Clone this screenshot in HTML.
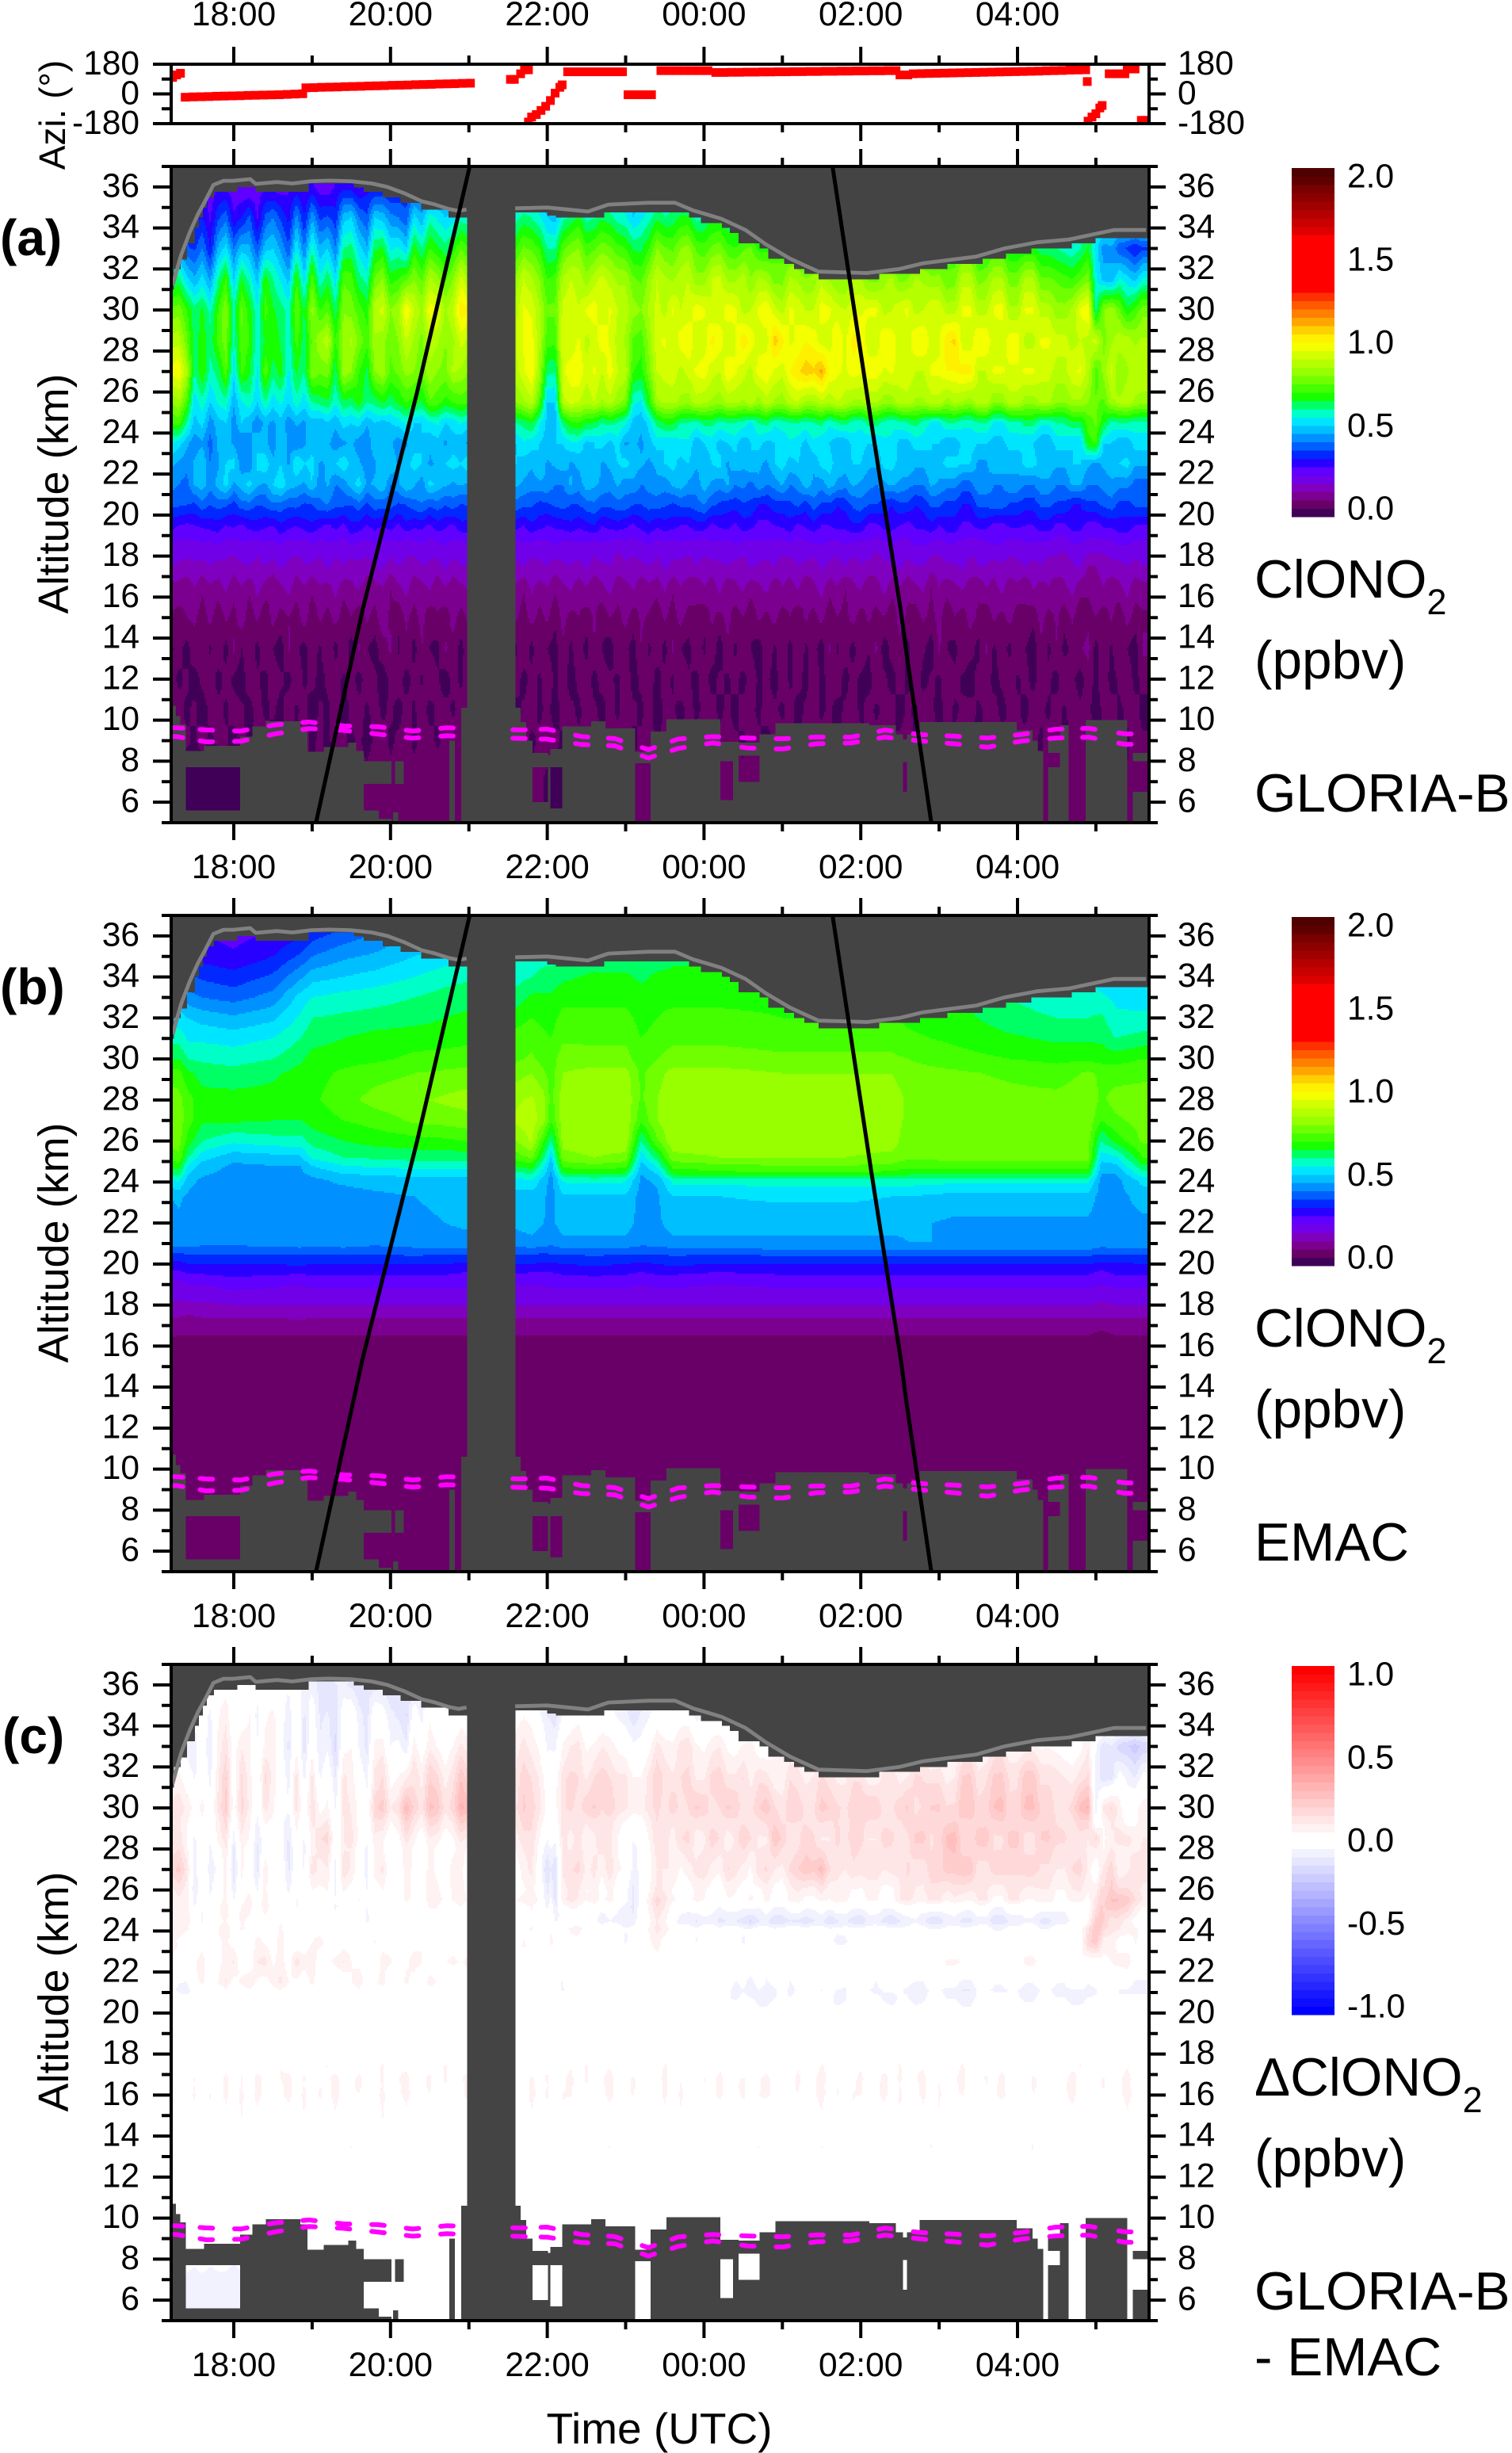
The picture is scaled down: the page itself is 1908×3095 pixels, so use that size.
<!DOCTYPE html>
<html lang="en">
<head>
<meta charset="utf-8">
<title>ClONO2 GLORIA-B and EMAC curtains</title>
<style>
html,body{margin:0;padding:0;background:#fff;width:1908px;height:3095px;overflow:hidden}
svg{display:block;font-family:"Liberation Sans",sans-serif;fill:#000}
</style>
</head>
<body>
<svg id="figure" xmlns="http://www.w3.org/2000/svg" width="1908" height="3095" viewBox="0 0 1908 3095">
<defs id="clips"></defs>
<rect x="0" y="0" width="1908" height="3095" fill="#fff"/>
<g id="marks"></g>
<g id="axes"></g>

<text font-size="46" text-anchor="middle" transform="translate(82 145) rotate(-90)">Azi. (°)</text>
<text font-size="54" text-anchor="middle" transform="translate(86 623) rotate(-90)">Altitude (km)</text>
<text font-size="54" text-anchor="middle" transform="translate(86 1568) rotate(-90)">Altitude (km)</text>
<text font-size="54" text-anchor="middle" transform="translate(86 2513) rotate(-90)">Altitude (km)</text>
<text font-size="55" text-anchor="middle" x="832" y="3083">Time (UTC)</text>

<text font-size="64" font-weight="bold" x="0" y="322">(a)</text>
<text font-size="64" font-weight="bold" x="0" y="1267">(b)</text>
<text font-size="64" font-weight="bold" x="3" y="2212">(c)</text>

<text font-size="67.5" x="1583" y="754">ClONO<tspan font-size="45" dy="21">2</tspan></text>
<text font-size="67.5" x="1583" y="856">(ppbv)</text>
<text font-size="67.5" x="1583" y="1024">GLORIA-B</text>

<text font-size="67.5" x="1583" y="1699">ClONO<tspan font-size="45" dy="21">2</tspan></text>
<text font-size="67.5" x="1583" y="1801">(ppbv)</text>
<text font-size="67.5" x="1583" y="1969">EMAC</text>

<text font-size="67.5" x="1583" y="2644">ΔClONO<tspan font-size="45" dy="21">2</tspan></text>
<text font-size="67.5" x="1583" y="2746">(ppbv)</text>
<text font-size="67.5" x="1583" y="2914">GLORIA-B</text>
<text font-size="67.5" x="1583" y="2997">- EMAC</text>
</svg>

<script>
// ---- axis data ----
const majorHours = [18, 20, 22, 24, 26, 28];
const minorHours = [19, 21, 23, 25, 27, 29];
const hourLabels = ["18:00", "20:00", "22:00", "00:00", "02:00", "04:00"];
const majorAltitudes = [36, 34, 32, 30, 28, 26, 24, 22, 20, 18, 16, 14, 12, 10, 8, 6];
const minorAltitudes = [37, 35, 33, 31, 29, 27, 25, 23, 21, 19, 17, 15, 13, 11, 9, 7, 5];
const azimuthMajorTicks = [180, 0, -180];
const azimuthMinorTicks = [90, -90];
const ppbvBarLabels = ["2.0", "1.5", "1.0", "0.5", "0.0"];
const ppbvBarValues = [2, 1.5, 1, 0.5, 0];
const deltaBarLabels = ["1.0", "0.5", "0.0", "-0.5", "-1.0"];
const deltaBarValues = [1, 0.5, 0, -0.5, -1];

// ---- azimuth series (hours after 00 UTC of first day, degrees) ----
const azimuthTimes = [17.22,17.27,17.32,
17.38,17.48,17.58,17.68,17.78,17.88,17.98,18.08,18.18,18.28,18.38,18.48,18.58,18.68,18.78,18.88,
18.92,19.02,19.12,19.22,19.32,19.42,19.52,19.62,19.72,19.82,19.92,20.02,20.12,20.22,20.32,20.42,20.52,20.62,20.72,20.82,20.92,21.02,
21.53,21.58,21.66,21.71,21.76,
21.76,21.8,21.86,21.92,21.98,22.04,22.1,22.16,22.19,
22.26,22.36,22.46,22.56,22.66,22.76,22.86,22.96,
23.03,23.13,23.23,23.33,
23.45,23.55,23.65,23.75,23.85,23.95,24.05,
24.15,24.25,24.35,24.45,24.55,24.65,24.75,24.85,24.95,25.05,25.15,25.25,25.35,25.45,25.55,25.65,25.75,25.85,25.95,26.05,26.15,26.25,26.35,26.45,
26.5,26.6,
26.67,26.77,26.87,26.97,27.07,27.17,27.27,27.37,27.47,27.57,27.67,27.77,27.87,27.97,28.07,28.17,28.27,28.37,28.47,28.57,28.67,28.77,28.87,
28.89,
28.9,28.95,29,29.05,29.08,
29.17,29.27,29.37,29.4,29.5,29.58,29.64];
const azimuthValues = [100,115,125,
-20,-18,-17,-16,-14,-13,-12,-11,-9,-8,-7,-6,-5,-3,-1,1,
37,38,40,41,42,44,45,46,48,49,50,52,53,54,56,57,58,60,61,62,64,65,
88,88,122,146,146,
-170,-140,-125,-100,-75,-40,5,40,55,
134,134,134,134,134,134,134,134,
-5,-5,-5,-5,
141,141,141,141,141,141,141,
130,130,131,131,132,132,133,133,134,134,135,135,136,136,137,137,138,138,139,139,140,140,141,141,
115,115,
122,123,124,125,126,127,128,129,130,131,132,133,134,135,136,137,138,140,141,142,144,145,146,
75,
-165,-140,-120,-85,-70,
122,122,122,151,151,-160,-160];

// ---- GLORIA-B ClONO2 curtain, 0.01 ppbv; one row per time column, altitudes as listed ----
const gloriaAltitudes = [36,34.5,33,31.5,30,28.5,27,25.5,24.5,23.5,22.5,21.5,20.5,19.5,18.5,17.5,16.5,15,13.5,12,10.5,9,7];
const gloriaTimes = [17.2,17.3,17.4,17.5,17.6,17.7,17.8,17.9,18,18.1,18.2,18.3,18.4,18.5,18.6,18.7,18.8,18.9,19,19.1,19.2,19.3,19.4,19.5,19.6,19.7,19.8,19.9,20,20.1,20.2,20.3,20.4,20.5,20.6,20.7,20.8,20.9,21,21.6,21.7,21.8,21.9,22,22.1,22.2,22.3,22.4,22.5,22.6,22.7,22.8,22.9,23,23.1,23.2,23.3,23.4,23.5,23.6,23.7,23.8,23.9,24,24.1,24.2,24.3,24.4,24.5,24.6,24.7,24.8,24.9,25,25.1,25.2,25.3,25.4,25.5,25.6,25.7,25.8,25.9,26,26.1,26.2,26.3,26.4,26.5,26.6,26.7,26.8,26.9,27,27.1,27.2,27.3,27.4,27.5,27.6,27.7,27.8,27.9,28,28.1,28.2,28.3,28.4,28.5,28.6,28.7,28.8,28.9,29,29.1,29.2,29.3,29.4,29.5,29.6];
const gloriaValues = [
[30,30,40,60,76,88,96,80,70,56,46,42,36,27,19,15,9,4,-1,2,1,1,-1],
[30,30,42,62,78,88,100,84,72,52,44,40,36,25,18,14,8,3,2,-1,2,-1,-1],
[28,30,36,52,70,76,86,72,60,46,42,38,35,24,18,13,7,5,-2,1,-1,1,-4],
[26,28,34,46,62,62,60,52,48,42,46,46,34,25,18,14,10,6,3,-2,1,-1,-4],
[26,30,40,52,66,68,70,58,52,44,50,48,38,26,19,13,6,2,5,1,-2,2,-4],
[22,24,30,44,58,62,58,50,42,38,40,42,35,27,18,15,9,7,-1,3,1,-1,-4],
[24,34,46,60,70,72,62,56,48,46,44,47,37,28,20,13,8,1,4,-2,2,1,-4],
[24,38,52,70,80,78,74,58,50,48,50,52,36,25,17,14,11,6,-2,2,-1,1,-4],
[21,26,40,50,60,58,52,46,42,44,52,44,33,26,17,12,7,3,6,-1,2,-2,-4],
[20,30,48,66,76,74,72,54,50,40,42,48,38,24,19,14,10,8,0,-3,1,1,-4],
[19,36,46,58,68,70,66,58,46,44,40,52,38,27,18,15,6,2,4,3,-2,-1,-1],
[22,24,36,48,56,56,54,50,42,48,52,46,35,28,17,13,12,6,-2,1,2,1,-1],
[24,36,48,68,72,66,74,60,46,46,54,44,36,26,19,15,8,1,5,-2,-1,2,-1],
[22,40,50,60,66,70,62,52,44,42,46,50,39,25,18,13,5,7,0,3,1,-2,-1],
[22,34,44,54,62,64,68,56,48,50,50,54,38,29,20,16,9,3,-3,1,-2,1,-1],
[24,28,36,48,58,56,54,50,42,44,44,48,36,27,17,14,12,5,6,-2,3,-1,-1],
[26,42,54,70,76,72,66,58,46,40,56,46,37,25,18,12,7,2,1,4,-1,1,-1],
[24,30,40,52,64,62,60,52,44,44,50,44,34,28,16,15,10,8,-2,-1,2,2,-1],
[26,44,58,74,82,76,80,60,48,48,52,50,35,29,19,14,6,1,3,2,-3,-1,-1],
[22,34,46,56,70,84,76,62,46,50,44,42,39,26,17,13,10,6,-1,-2,1,1,1],
[21,36,50,64,74,88,78,64,50,46,46,46,40,24,19,16,8,3,5,1,-1,-1,-1],
[26,32,40,52,62,70,62,56,46,42,50,40,36,27,18,13,12,7,-2,3,2,2,1],
[28,48,60,74,80,82,84,64,52,44,54,42,36,24,17,15,7,2,4,-1,-2,1,2],
[27,50,62,72,78,86,80,62,50,46,48,48,35,29,20,12,9,5,-3,2,1,-1,1],
[24,40,52,62,72,78,70,68,52,42,46,52,38,28,18,14,11,1,6,-2,2,1,1],
[28,36,46,58,68,72,64,60,46,40,42,44,34,25,17,13,6,6,0,3,-1,-2,2],
[28,50,64,76,88,84,80,62,50,50,44,46,38,27,19,14,8,3,-2,1,2,1,3],
[30,48,66,80,92,82,84,66,48,48,50,50,37,25,18,16,10,8,3,-3,-1,2,1],
[27,42,54,68,80,76,74,62,50,46,50,40,37,28,17,13,5,4,6,1,1,-1,2],
[30,40,56,70,84,80,76,66,52,42,44,44,34,24,19,15,9,1,-1,3,-2,1,2],
[32,36,50,74,100,90,82,70,56,44,48,50,35,29,16,14,12,6,4,-2,2,2,1],
[34,52,68,80,90,84,80,68,50,48,52,46,38,26,18,12,7,3,-2,2,-1,-1,2],
[35,46,60,74,84,78,76,64,50,50,50,42,40,27,19,15,8,7,5,-1,3,1,3],
[36,58,70,86,98,88,84,74,54,46,44,52,36,24,17,14,11,1,0,4,-2,2,2],
[38,54,66,82,96,86,80,72,56,48,46,48,38,28,18,13,6,5,-2,1,1,-1,4],
[40,50,62,74,84,80,78,68,50,44,50,46,35,26,20,16,10,2,6,-3,2,1,2],
[40,52,68,80,90,84,86,70,52,48,52,44,38,24,18,13,7,7,3,2,-1,3,2],
[42,58,74,92,104,92,84,72,56,46,50,46,34,29,17,15,9,3,-2,-1,2,1,1],
[44,56,70,84,100,88,80,70,52,44,54,44,36,28,20,14,11,6,4,3,1,-2,1],
[46,58,70,82,88,90,88,80,60,50,50,46,38,27,17,14,9,6,-1,3,-2,1,1],
[48,62,76,90,96,96,94,84,62,54,48,44,36,25,19,15,6,2,4,-2,1,2,1],
[48,60,74,86,94,98,100,88,66,52,46,42,36,29,18,13,11,7,-2,2,2,-1,1],
[46,56,70,80,86,86,84,74,56,50,50,44,33,27,17,14,8,3,5,-1,-1,1,1],
[42,50,60,70,76,72,62,50,48,48,44,44,34,25,18,15,10,6,0,3,1,2,-1],
[42,48,60,72,76,72,60,50,46,50,46,40,36,26,20,12,6,1,-2,-1,-2,1,-1],
[46,58,74,86,92,94,94,88,62,50,48,40,37,27,18,14,9,7,4,2,2,-1,-1],
[48,62,78,90,94,90,98,92,68,54,44,46,35,29,17,15,11,3,-1,-2,1,2,1],
[50,66,80,88,90,96,100,90,70,54,46,42,35,26,19,13,7,5,3,1,-1,1,1],
[50,58,72,82,96,88,92,86,66,48,50,48,38,28,18,16,10,2,-2,3,2,-1,2],
[46,60,74,88,98,92,96,90,64,50,50,46,39,30,17,13,6,6,5,-2,1,2,2],
[48,64,78,92,92,98,90,84,60,52,44,44,36,25,19,14,9,1,0,2,-2,1,1],
[50,62,76,88,96,94,98,88,62,48,46,42,36,27,18,15,12,5,-3,1,2,-1,1],
[48,58,72,84,90,88,90,82,60,52,50,46,38,28,16,12,7,3,4,-1,-1,2,1],
[46,56,70,84,88,84,88,78,56,44,52,42,38,26,18,14,8,7,1,3,2,1,1],
[44,50,64,76,82,74,70,56,48,46,48,44,35,24,17,13,11,2,-2,-2,1,-1,1],
[44,54,64,74,80,72,68,54,46,44,46,40,35,27,18,14,6,6,5,1,-1,1,1],
[46,58,70,82,86,82,78,68,52,48,44,42,37,29,20,15,9,4,-1,3,2,2,2],
[52,64,80,90,92,94,90,84,62,52,46,44,37,26,17,13,7,1,3,-2,-2,-1,2],
[54,60,76,86,88,96,92,86,66,50,50,42,36,28,18,16,11,6,-2,2,1,1,1],
[54,62,74,84,96,90,94,86,66,50,52,46,34,27,17,14,6,2,6,-1,1,1,1],
[52,66,80,88,90,98,88,84,60,54,48,48,36,25,19,13,10,7,0,4,-2,2,1],
[50,66,82,90,92,100,92,82,60,54,50,44,36,25,18,12,8,3,-2,1,2,-1,1],
[50,58,74,82,98,90,96,88,58,46,46,42,38,28,17,15,5,5,5,-2,-1,1,1],
[52,60,72,82,96,92,98,86,62,50,46,48,40,28,16,14,10,1,-1,3,1,2,1],
[52,64,76,90,90,102,92,84,62,52,50,44,36,24,19,13,7,6,3,-2,2,-1,1],
[50,64,78,92,92,98,90,82,58,48,52,42,34,26,18,14,12,3,-3,1,-1,1,1],
[50,60,72,84,98,90,100,86,60,50,44,46,32,27,17,15,6,7,4,-1,1,2,1],
[50,60,70,84,96,94,96,86,60,52,48,40,32,24,20,13,9,2,-1,2,-2,1,1],
[50,60,74,88,88,104,92,84,58,46,46,42,34,28,18,12,11,5,5,-2,2,-1,1],
[50,60,76,80,90,98,88,88,54,50,50,38,34,27,17,16,7,1,0,3,1,2,1],
[50,60,68,86,96,92,98,82,60,52,46,44,30,23,19,14,9,6,-3,-1,-1,1,1],
[50,60,68,84,100,92,100,88,62,48,44,40,30,23,19,13,12,3,4,1,2,-2,1],
[50,60,72,78,92,108,94,84,56,50,50,42,33,25,18,15,6,7,-1,-2,1,1,2],
[50,60,72,78,88,102,92,82,58,50,52,46,33,26,17,13,10,2,3,3,-1,2,2],
[50,60,72,86,96,94,100,88,60,54,48,40,34,28,19,12,8,5,-2,-1,2,-1,1],
[50,60,72,84,94,96,104,90,60,52,50,42,36,24,17,15,11,1,5,2,-2,1,1],
[50,60,68,80,90,100,108,84,58,48,46,48,32,26,18,14,5,6,-1,-2,1,1,1],
[50,60,70,82,90,98,106,84,60,54,46,44,38,28,19,12,9,3,2,4,2,-1,1],
[50,60,72,88,98,92,112,88,62,50,52,42,34,25,20,16,12,7,-3,-1,-1,2,1],
[50,60,70,84,96,92,100,86,56,50,52,48,34,25,18,14,7,1,6,1,1,1,1],
[50,60,66,80,92,100,96,90,60,46,48,44,30,27,17,13,10,5,-1,3,-2,-1,2],
[50,60,74,80,90,94,94,88,62,46,48,42,32,26,20,15,5,3,3,-2,1,2,3],
[50,60,70,86,94,102,98,84,58,52,50,46,36,29,18,12,9,7,-2,2,2,1,1],
[50,60,70,86,94,100,96,84,56,52,50,44,38,29,17,15,11,2,4,-1,-1,1,1],
[50,60,66,78,96,92,98,86,62,50,46,42,35,24,19,13,6,6,0,-2,2,-2,1],
[50,60,68,78,96,92,98,86,62,50,46,40,35,24,16,12,8,3,6,3,-1,2,1],
[50,60,72,84,88,100,94,82,58,54,52,44,32,27,18,14,12,5,-3,1,1,1,1],
[50,60,72,86,90,98,96,82,56,54,52,46,30,27,19,14,7,1,2,-2,2,-1,1],
[50,60,64,78,94,92,92,88,58,48,48,44,34,25,17,16,10,7,4,2,-2,1,2],
[50,60,66,80,96,92,94,88,60,48,50,42,34,23,18,13,6,4,-2,-1,1,2,2],
[50,60,72,86,88,100,90,84,62,52,46,40,30,26,20,15,9,2,5,3,-1,-1,1],
[50,60,72,84,90,100,90,84,58,52,46,40,32,26,20,15,11,6,1,-2,3,1,1],
[50,60,66,82,94,92,96,88,54,50,50,46,36,29,18,12,5,3,-3,1,1,2,1],
[50,60,68,82,94,94,96,88,54,50,48,44,36,25,17,12,10,7,6,-1,-2,1,1],
[50,60,72,76,88,104,100,82,60,46,52,42,33,28,19,14,7,1,0,4,2,-1,1],
[50,60,70,78,88,106,100,86,60,46,52,42,33,28,19,14,9,5,-2,2,-1,1,1],
[50,60,74,88,96,92,102,84,56,52,50,38,30,24,18,16,11,2,5,-1,1,2,2],
[50,60,74,88,96,92,102,82,56,52,50,38,30,24,17,13,7,7,2,-3,2,1,2],
[50,60,66,78,88,100,90,88,60,50,44,44,36,27,16,15,6,4,-2,2,-1,-1,1],
[50,60,66,80,88,100,90,88,60,50,44,44,36,27,18,15,10,1,6,3,1,1,1],
[50,60,72,86,96,90,96,80,54,48,50,40,38,23,20,12,8,6,-1,-2,2,2,1],
[50,60,72,86,98,90,96,80,54,48,50,40,38,23,20,14,12,3,3,1,-2,3,1],
[50,60,64,78,86,98,94,88,58,52,46,44,34,26,17,13,7,7,-2,4,1,-1,1],
[50,60,64,78,86,98,94,88,58,52,46,44,34,26,17,14,9,2,5,-1,1,1,1],
[50,60,66,86,96,88,96,82,62,50,52,40,32,25,19,15,5,5,0,2,-2,2,2],
[50,60,66,86,96,88,96,82,62,50,52,40,32,25,19,13,11,1,-3,-2,3,1,2],
[50,60,62,76,88,96,92,86,56,46,48,44,36,28,18,15,8,7,4,3,1,-1,1],
[50,60,62,76,88,96,92,86,56,46,48,44,36,28,18,12,10,3,-1,1,-1,2,1],
[50,60,60,74,82,92,88,80,60,52,46,40,34,24,16,14,6,6,5,-2,2,1,1],
[50,60,58,72,82,92,88,80,60,52,46,40,34,24,16,12,9,2,-2,5,-1,-1,1],
[50,60,56,70,86,88,94,84,64,50,50,46,30,27,19,14,12,6,2,1,2,1,1],
[50,60,60,74,96,90,96,84,64,50,50,46,30,27,19,16,7,1,4,-2,1,2,1],
[50,60,66,78,100,88,88,80,72,68,46,40,34,23,18,10,6,3,7,2,1,3,3],
[50,60,52,56,60,92,72,76,76,70,44,40,34,23,18,10,8,5,-2,-1,-2,1,3],
[50,60,42,48,80,78,82,74,66,50,46,42,36,26,17,12,10,2,3,3,1,-1,1],
[50,60,44,46,84,84,92,84,58,50,48,44,38,26,17,14,6,6,-1,-2,2,2,1],
[50,60,36,56,76,88,80,86,60,46,50,42,33,28,20,13,9,1,5,1,-1,1,1],
[50,60,34,52,66,88,84,88,60,46,52,42,33,28,20,15,12,7,0,4,1,-1,1],
[50,60,30,48,72,84,90,84,58,52,46,38,36,25,18,13,7,3,-3,-2,2,2,1],
[50,60,34,56,78,86,90,82,58,52,46,38,36,25,18,15,8,4,6,2,-2,1,1]
];

// ---- EMAC ClONO2 curtain, 0.01 ppbv ----
const emacAltitudes = [36.5,35,34,33,32,31,30,29.3,28,27,26,25.2,24.8,24.4,24.1,23.3,22,21.1,20.7,20.4,20,19.6,19,18,17.4,16.8,16,12,5];
const emacTimes = [17.2,17.3,17.42,17.6,18,18.5,18.85,19,19.4,19.8,20.3,20.7,20.95,21.6,21.8,21.95,22.05,22.2,22.6,23,23.2,23.4,23.6,24.2,25,25.8,26.4,26.6,27.2,27.9,28.5,28.9,29.07,29.25,29.6];
const emacValues = [
[50,50,50,50,52,58,65,72,78,78,77,72,66,62,55,45,43,43,38,33,28,24,18,14,10,7,3,2,2],
[45,45,46,48,52,58,65,72,77,78,77,74,68,62,56,46,44,45,38,33,28,24,18,14,10,6,3,2,2],
[30,32,36,42,50,54,60,66,72,72,68,60,54,50,47,44,42,44,38,34,30,26,20,14,9,6,3,2,2],
[24,28,34,40,48,54,59,63,67,66,60,52,48,46,44,42,42,42,38,34,30,26,20,14,10,6,3,2,2],
[22,26,32,38,46,53,58,62,67,66,56,47,44,43,40,42,41,42,38,34,30,27,22,15,10,6,3,2,2],
[24,30,36,42,49,55,60,64,67,65,58,48,45,43,42,42,42,43,38,34,30,26,21,15,10,6,3,2,2],
[26,36,44,52,56,60,64,67,68,65,58,49,45,44,43,43,43,43,39,34,31,26,20,15,11,6,3,2,2],
[30,40,48,55,60,63,67,68,69,67,62,56,50,46,44,43,43,43,38,34,30,26,21,15,10,6,3,2,2],
[34,44,50,57,61,65,68,71,73,70,65,60,55,50,46,43,43,43,39,34,30,26,21,15,10,6,3,2,2],
[38,46,52,58,62,67,69,73,77,72,67,61,56,51,47,44,43,42,38,34,30,26,21,15,10,6,3,2,2],
[44,50,55,60,63,68,71,75,79,76,68,62,57,52,48,45,44,43,39,35,30,26,21,15,10,6,3,2,2],
[46,52,58,62,65,68,72,76,81,77,69,62,57,52,48,46,45,43,39,34,30,26,21,15,10,6,3,2,2],
[46,52,59,63,66,69,72,77,82,78,70,62,57,52,48,46,46,43,39,34,29,25,21,15,10,6,3,2,2],
[55,55,58,62,68,72,74,78,84,86,80,72,66,58,54,47,46,43,38,34,30,26,20,15,10,6,3,2,2],
[55,57,60,66,70,73,76,80,86,88,86,76,68,60,55,47,47,44,39,34,30,25,20,15,10,6,3,2,2],
[56,58,62,66,69,71,73,76,82,82,70,62,56,52,48,46,45,43,38,33,29,25,20,15,10,6,3,2,2],
[56,58,62,66,68,70,72,73,73,71,60,50,46,44,43,43,44,42,38,34,29,25,21,15,10,6,3,2,2],
[58,60,64,68,72,74,78,80,83,83,82,78,72,64,56,49,47,44,39,34,30,26,21,15,10,6,3,2,2],
[58,62,66,68,72,74,77,82,84,84,84,80,74,66,57,49,47,44,39,35,31,27,21,15,10,6,3,2,2],
[58,62,66,68,72,74,77,82,84,84,84,78,72,64,56,49,47,44,39,34,30,26,21,15,10,6,3,2,2],
[60,62,64,67,68,70,72,74,74,71,60,52,48,45,44,43,43,42,38,34,29,25,20,15,10,6,3,2,2],
[60,62,66,68,70,72,75,78,80,80,74,62,56,50,46,44,44,43,38,34,30,26,21,15,10,6,3,2,2],
[62,64,66,68,72,74,77,82,84,84,84,78,72,66,57,50,47,44,39,35,31,26,21,15,10,6,3,2,2],
[62,64,67,68,72,74,77,82,84,84,84,80,74,68,57,50,47,44,39,34,30,25,20,15,10,6,3,2,2],
[62,66,67,68,70,73,76,80,84,84,84,80,75,69,58,51,47,44,40,35,30,26,21,15,10,6,3,2,2],
[62,66,67,68,70,73,76,80,84,84,84,80,75,69,58,51,47,44,40,35,30,26,21,15,10,6,3,2,2],
[62,64,66,68,70,73,76,80,83,84,83,78,74,68,58,50,47,44,40,35,30,26,21,15,10,6,3,2,2],
[60,63,65,67,69,71,75,77,79,78,76,76,72,66,58,50,46,45,40,35,30,26,21,15,10,6,3,2,2],
[58,60,63,66,67,69,72,76,78,78,78,77,72,66,57,48,44,45,40,35,30,26,21,15,10,6,3,2,2],
[52,54,57,60,62,66,70,74,77,78,78,77,72,66,57,48,44,45,40,35,30,26,21,15,10,6,3,2,2],
[52,53,55,57,60,64,69,72,77,78,78,77,72,66,57,48,44,45,40,35,30,26,21,15,10,6,3,2,2],
[52,53,55,57,60,64,69,76,79,79,77,77,72,66,57,48,44,45,40,35,30,26,21,15,10,6,3,2,2],
[50,50,52,56,61,64,68,74,74,70,60,52,48,45,43,43,42,42,39,34,29,24,20,14,10,5,3,2,2],
[48,48,50,54,56,60,68,73,77,74,67,54,49,45,43,43,43,44,39,34,29,26,21,15,10,6,3,2,2],
[47,47,50,53,56,62,70,74,77,77,76,70,64,58,52,47,44,44,39,34,30,26,21,15,10,6,3,2,2]
];

// ---- retrieval top (step ends in hours, top altitude km) ----
const dataTopEnds = [17.23,17.32,17.40,17.50,17.55,17.60,17.65,17.74,18.04,18.28,18.95,19.53,19.66,19.90,20.13,20.39,20.74,20.99,21.59,22.0,22.11,22.72,23.81,23.96,24.23,24.33,24.44,24.71,24.82,25.02,25.15,25.28,25.46,26.23,26.75,27.1,27.55,27.85,28.17,28.69,28.99,29.68];
const dataTopAltitudes = [31,32,32.45,33.25,34,34.5,35,35.5,35.76,36,35.76,36.17,35.97,35.76,35.5,35.23,34.9,34.5,5,34.75,34.6,34.5,34.75,34.5,34.24,34,33.76,33.25,33,32.5,32.25,32,31.76,31.5,31.76,32,32.25,32.5,32.75,33,33.25,33.5];

// ---- highest tangent altitude (grey line); two flight legs ----
const tangentTimesLegOne = [17.22,17.27,17.33,17.44,17.54,17.64,17.74,17.87,17.99,18.21,18.28,18.55,18.75,18.99,19.22,19.49,19.76,19.96,20.17,20.40,20.57,20.74,20.87,20.97];
const tangentAltsLegOne = [31.2,31.9,32.7,33.8,34.65,35.35,36.1,36.3,36.3,36.38,36.15,36.24,36.17,36.28,36.31,36.28,36.17,36.0,35.7,35.3,35.14,34.93,34.83,34.9];
const tangentTimesLegTwo = [21.59,22.0,22.26,22.52,22.78,23.29,23.63,23.86,24.22,24.53,24.79,25.1,25.46,26.08,26.49,26.8,27.47,27.83,28.25,28.66,29.23,29.64];
const tangentAltsLegTwo = [34.96,35.0,34.9,34.8,35.14,35.23,35.23,34.86,34.45,33.9,33.2,32.5,31.87,31.8,32.0,32.28,32.6,33.0,33.3,33.44,33.9,33.9];

// ---- black sloping lines (time at altitude) ----
const blackLineOneTimes = [21.01,20.34,19.645,19.05];
const blackLineOneAlts = [37,26,15.4,5];
const blackLineTwoTimes = [25.64,26.13,26.51,26.59,26.9];
const blackLineTwoAlts = [37,24.6,15.38,13.06,5];

// ---- tropopause double dashes ----
const tropopauseTimes = [17.27,17.65,18.09,18.53,18.96,19.40,19.84,20.28,20.72,21.64,22.0,22.44,22.86,23.29,23.67,24.11,24.56,25.0,25.44,25.88,26.31,26.75,27.18,27.62,28.05,28.49,28.91,29.37];
const tropopauseUpper = [9.63,9.52,9.47,9.77,9.91,9.72,9.68,9.47,9.63,9.52,9.56,9.2,9.1,8.56,9.08,9.2,9.13,9.09,9.18,9.17,9.52,9.3,9.22,9.13,9.3,9.56,9.6,9.33];
const tropopauseLower = [9.2,8.94,8.97,9.33,9.59,9.5,9.32,9.12,9.24,9.11,9.07,8.81,8.75,8.15,8.62,8.89,8.64,8.59,8.85,8.89,9.17,8.99,8.85,8.68,8.98,9.13,9.17,8.82];

// ---- cloud-masked blocks [start h, end h, low km, high km] ----
const cloudStarts = [17.2,17.26,17.32,17.39,17.62,17.39,18.08,18.24,18.41,18.85,18.94,19.15,19.46,19.56,19.66,19.66,19.85,20.06,20.03,20.75,20.9,20.98,21.59,21.66,21.73,21.81,21.81,22.01,22.04,22.04,22.19,22.56,22.74,23.12,23.32,23.52,24.21,24.21,24.37,24.44,24.44,24.71,24.91,26.11,26.45,26.54,26.54,26.59,26.75,27.99,28.19,28.26,28.39,28.39,28.54,28.87,29.07,29.47,29.47];
const cloudEnds = [17.26,17.32,17.39,17.62,18.08,18.08,18.24,18.41,18.85,18.94,19.15,19.46,19.56,19.66,20.01,19.85,20.01,20.17,20.1,20.82,20.98,21.59,21.66,21.73,21.81,22.01,22.01,22.04,22.19,22.19,22.56,22.74,23.12,23.32,23.52,24.21,24.37,24.37,24.44,24.71,24.71,24.91,26.11,26.45,26.54,26.59,26.59,26.75,27.99,28.19,28.26,28.33,28.54,28.54,28.65,29.07,29.4,29.68,29.68];
const cloudLows = [5,5,5,7.7,7.7,5,5,5,5,5,5,5,5,5,6.9,5,5,6.9,5,5,5,5,5,5,5,7.7,5,5,7.7,5,5,5,5,7.9,5,5,8,5,5,8.27,5,5,5,5,5,7.95,5,5,5,5,5,5,8.4,5,5,5,5,8,5];
const cloudHighs = [10.7,10.2,9.8,8.5,8.75,5.6,9.2,9.7,9.95,9.7,8.45,8.7,8.9,8.5,8,5.6,5.2,8,5.5,9,10.6,37,10.6,9.9,9,8.4,6,8.3,8.6,5.7,9.7,9.95,9.6,8.45,9.44,10.05,8.95,6.1,8.95,8.9,7,9.3,9.85,9.75,9.3,9.05,6.5,9.3,9.9,9.5,9,8.5,9.05,7.7,9.75,10,10,8.4,6.5];

// ---- colour scales (bins of 0.05 ppbv starting at -0.05) ----
const ppbvPalette = ["#400058","#680068","#7c0090","#8000c0","#7000e8","#6000ff","#2800ff","#0028ff","#0060ff","#0090ff","#00bfff","#00e5ff","#00ffc8","#00ff64","#18ff00","#44ff00","#70ff00","#98ff00","#b4ff00","#d4ff00","#f4ff00","#fff000","#ffd000","#ffa500","#ff8000","#ff5a00","#ff3000","#ff0000","#ff0000","#ff0000","#ff0000","#ff0000","#ff0000","#ff0000","#dc0000","#c80000","#b40000","#a00000","#8c0000","#780000","#5f0000","#4f0000"];

// ---- scales ----
const panelTops = [210, 1155, 2100];
const panelHeight = 828;
const axisLeft = 216;
const axisRight = 1450;
const tickFont = 42.5;
function xOf(t) { return 295 + (t - 18) * 98.9; }
function yOf(alt, top) { return top + (37 - alt) * panelHeight / 32; }
function aziY(a) { return 118.5 - a * 75 / 360; }

const NS = "http://www.w3.org/2000/svg";
const marks = document.getElementById("marks");
const axes = document.getElementById("axes");
const clips = document.getElementById("clips");
function make(tag, attrs, parent) {
  const el = document.createElementNS(NS, tag);
  for (const k in attrs) el.setAttribute(k, attrs[k]);
  parent.appendChild(el);
  return el;
}
function tickLine(x1, y1, x2, y2) {
  const el = make("line", {x1, y1, x2, y2, stroke: "#000", "stroke-width": 4}, axes);
  
  
}
function tickText(text, x, y, anchor) {
  const el = make("text", {x, y, "font-size": tickFont, "text-anchor": anchor}, axes);
  el.textContent = text;
  
  
}

// interpolate a profile-by-time grid
function locate(arr, v) {
  const descending = arr[0] > arr[arr.length - 1];
  let i = 0;
  while (i < arr.length - 2 && (descending ? arr[i + 1] > v : arr[i + 1] < v)) i++;
  let f = (v - arr[i]) / (arr[i + 1] - arr[i]);
  f = Math.max(0, Math.min(1, f));
  return [i, f];
}
function sample(times, alts, grid, ti, ai) {
  const c0 = grid[ti[0]], c1 = grid[ti[0] + 1];
  const a = c0[ai[0]] * (1 - ai[1]) + c0[ai[0] + 1] * ai[1];
  const b = c1[ai[0]] * (1 - ai[1]) + c1[ai[0] + 1] * ai[1];
  return a * (1 - ti[1]) + b * ti[1];
}
function deltaColor(level) {
  const n = Math.min(20, Math.abs(level));
  const c = Math.round(255 * (1 - n / 20));
  if (n === 0) return "#ffffff";
  return level > 0 ? "rgb(255," + c + "," + c + ")" : "rgb(" + c + "," + c + ",255)";
}
function drawField(kind, top, group) {
  const step = 2;
  const runs = {};
  const timeCols = [];
  for (let px = axisLeft; px < axisRight; px += step) {
    const t = 18 + (px + step / 2 - 295) / 98.9;
    timeCols.push({px, g: locate(gloriaTimes, t), e: locate(emacTimes, t)});
  }
  for (let py = top; py < top + panelHeight; py += step) {
    const alt = 37 - (py + step / 2 - top) * 32 / panelHeight;
    const ag = locate(gloriaAltitudes, alt);
    const ae = locate(emacAltitudes, alt);
    let curr = null, start = 0;
    for (const col of timeCols) {
      let key;
      if (kind === "a") {
        const v = sample(gloriaTimes, gloriaAltitudes, gloriaValues, col.g, ag);
        key = ppbvPalette[Math.max(0, Math.min(41, Math.floor((v + 5) / 5)))];
      } else if (kind === "b") {
        const v = sample(emacTimes, emacAltitudes, emacValues, col.e, ae);
        key = ppbvPalette[Math.max(0, Math.min(41, Math.floor((v + 5) / 5)))];
      } else {
        const d = sample(gloriaTimes, gloriaAltitudes, gloriaValues, col.g, ag) - sample(emacTimes, emacAltitudes, emacValues, col.e, ae);
        key = deltaColor(Math.trunc(d / 5));
      }
      if (key !== curr) {
        if (curr !== null) runs[curr] = (runs[curr] || "") + "M" + start + " " + py + "H" + col.px + "V" + (py + step) + "H" + start + "Z";
        curr = key;
        start = col.px;
      }
    }
    runs[curr] = (runs[curr] || "") + "M" + start + " " + py + "H" + axisRight + "V" + (py + step) + "H" + start + "Z";
  }
  for (const color in runs) {
    const p = make("path", {d: runs[color], fill: color, "shape-rendering": "crispEdges"}, group);
    
    
  }
}
function polyPath(times, alts, top) {
  return times.map(function (t, i) { return (i ? "L" : "M") + xOf(t).toFixed(1) + " " + yOf(alts[i], top).toFixed(1); }).join("");
}
function interpAlt(times, alts, t) {
  const loc = locate(times, t);
  return alts[loc[0]] + (alts[loc[0] + 1] - alts[loc[0]]) * ((t - times[loc[0]]) / (times[loc[0] + 1] - times[loc[0]]));
}
function drawPanel(kind, index) {
  const top = panelTops[index];
  const bottom = top + panelHeight;
  const clip = make("clipPath", {id: "panel-clip-" + kind}, clips);
  make("rect", {x: axisLeft, y: top, width: axisRight - axisLeft, height: panelHeight}, clip);
  const g = make("g", {"clip-path": "url(#panel-clip-" + kind + ")"}, marks);
  
  

  drawField(kind, top, g);

  // retrieval top mask
  let prev = 17.2;
  dataTopEnds.forEach(function (end, i) {
    const r = make("rect", {x: xOf(prev), y: top, width: xOf(end) - xOf(prev) + 0.5, height: yOf(dataTopAltitudes[i], top) - top, fill: "#444444", "shape-rendering": "crispEdges"}, g);
    
    
    prev = end;
  });
  // cloud mask
  cloudStarts.forEach(function (s, i) {
    const r = make("rect", {x: xOf(s), y: yOf(cloudHighs[i], top), width: xOf(cloudEnds[i]) - xOf(s), height: yOf(cloudLows[i], top) - yOf(cloudHighs[i], top), fill: "#444444", "shape-rendering": "crispEdges"}, g);
    
    
  });
  // tangent-altitude line
  [[tangentTimesLegOne, tangentAltsLegOne], [tangentTimesLegTwo, tangentAltsLegTwo]].forEach(function (leg) {
    const l = make("path", {d: polyPath(leg[0], leg[1], top), fill: "none", stroke: "#808080", "stroke-width": 4.8, "stroke-linejoin": "round"}, g);
    
    
  });
  // tropopause dashes
  [tropopauseUpper, tropopauseLower].forEach(function (alts) {
    tropopauseTimes.forEach(function (t) {
      const half = 0.08;
      const t0 = Math.max(17.27, t - half), t1 = Math.min(29.37, t + half);
      const d = "M" + xOf(t - half) + " " + yOf(interpAlt(tropopauseTimes, alts, t0), top) +
                "L" + xOf(t) + " " + yOf(interpAlt(tropopauseTimes, alts, t), top) +
                "L" + xOf(t + half) + " " + yOf(interpAlt(tropopauseTimes, alts, t1), top);
      const m = make("path", {d, fill: "none", stroke: "#ff00ff", "stroke-width": 6, "stroke-linecap": "round", "stroke-linejoin": "round"}, g);
      
      
    });
  });
  // black lines, only for the first two panels
  if (kind !== "c") {
    [[blackLineOneTimes, blackLineOneAlts], [blackLineTwoTimes, blackLineTwoAlts]].forEach(function (line) {
      const l = make("path", {d: polyPath(line[0], line[1], top), fill: "none", stroke: "#000", "stroke-width": 5}, g);
      
      
    });
  }
  // frame & ticks
  tickLine(axisLeft, top, axisLeft, bottom);
  tickLine(axisRight, top, axisRight, bottom);
  tickLine(axisLeft, top, axisRight, top);
  tickLine(axisLeft, bottom, axisRight, bottom);
  majorHours.forEach(function (h, i) {
    tickLine(xOf(h), top, xOf(h), top - 22);
    tickLine(xOf(h), bottom, xOf(h), bottom + 22);
    tickText(hourLabels[i], xOf(h), bottom + 70, "middle");
  });
  minorHours.forEach(function (h) {
    tickLine(xOf(h), top, xOf(h), top - 11);
    tickLine(xOf(h), bottom, xOf(h), bottom + 11);
  });
  majorAltitudes.forEach(function (a) {
    const y = yOf(a, top);
    tickLine(axisLeft, y, axisLeft - 23, y);
    tickLine(axisRight, y, axisRight + 21, y);
    tickText(String(a), 176, y + 12.5, "end");
    tickText(String(a), 1486, y + 12.5, "start");
  });
  minorAltitudes.forEach(function (a) {
    const y = yOf(a, top);
    tickLine(axisLeft, y, axisLeft - 12, y);
    tickLine(axisRight, y, axisRight + 11, y);
  });
}
function drawColorbar(index, kind) {
  const top = panelTops[index] + 2;
  const barX = 1630, barW = 54, barH = 440, n = 42;
  const g = make("g", {}, marks);
  
  
  for (let i = 0; i < n; i++) {
    let color;
    if (kind === "c") {
      const mid = -1.025 + i * 0.05;
      color = deltaColor(Math.trunc(mid / 0.05));
    } else {
      color = ppbvPalette[i];
    }
    const r = make("rect", {x: barX, y: top + barH - (i + 1) * barH / n, width: barW, height: barH / n + 0.5, fill: color, "shape-rendering": "crispEdges"}, g);
    
    
  }
  const labels = kind === "c" ? deltaBarLabels : ppbvBarLabels;
  labels.forEach(function (text, i) {
    tickText(text, 1700, top + 10 + i * 104.75 + 14.5, "start");
  });
}
function drawAzimuth() {
  const clip = make("clipPath", {id: "azi-clip"}, clips);
  make("rect", {x: axisLeft, y: 81, width: axisRight - axisLeft, height: 75}, clip);
  const g = make("g", {"clip-path": "url(#azi-clip)"}, marks);
  
  
  azimuthTimes.forEach(function (t, i) {
    const r = make("rect", {x: xOf(t) - 5.5, y: aziY(azimuthValues[i]) - 5.5, width: 11, height: 11, fill: "#ff0000"}, g);
    
    
  });
  tickLine(axisLeft, 81, axisLeft, 156);
  tickLine(axisRight, 81, axisRight, 156);
  tickLine(axisLeft, 81, axisRight, 81);
  tickLine(axisLeft, 156, axisRight, 156);
  majorHours.forEach(function (h, i) {
    tickLine(xOf(h), 81, xOf(h), 59);
    tickLine(xOf(h), 156, xOf(h), 178);
    tickText(hourLabels[i], xOf(h), 32, "middle");
  });
  minorHours.forEach(function (h) {
    tickLine(xOf(h), 81, xOf(h), 70);
    tickLine(xOf(h), 156, xOf(h), 167);
  });
  azimuthMajorTicks.forEach(function (a) {
    const y = aziY(a);
    tickLine(axisLeft, y, axisLeft - 23, y);
    tickLine(axisRight, y, axisRight + 21, y);
    tickText(String(a), 176, y + 13, "end");
    tickText(String(a), 1486, y + 13, "start");
  });
  azimuthMinorTicks.forEach(function (a) {
    const y = aziY(a);
    tickLine(axisLeft, y, axisLeft - 12, y);
    tickLine(axisRight, y, axisRight + 11, y);
  });
}

drawAzimuth();
drawPanel("a", 0);
drawPanel("b", 1);
drawPanel("c", 2);
drawColorbar(0, "a");
drawColorbar(1, "b");
drawColorbar(2, "c");
</script>
</body>
</html>
